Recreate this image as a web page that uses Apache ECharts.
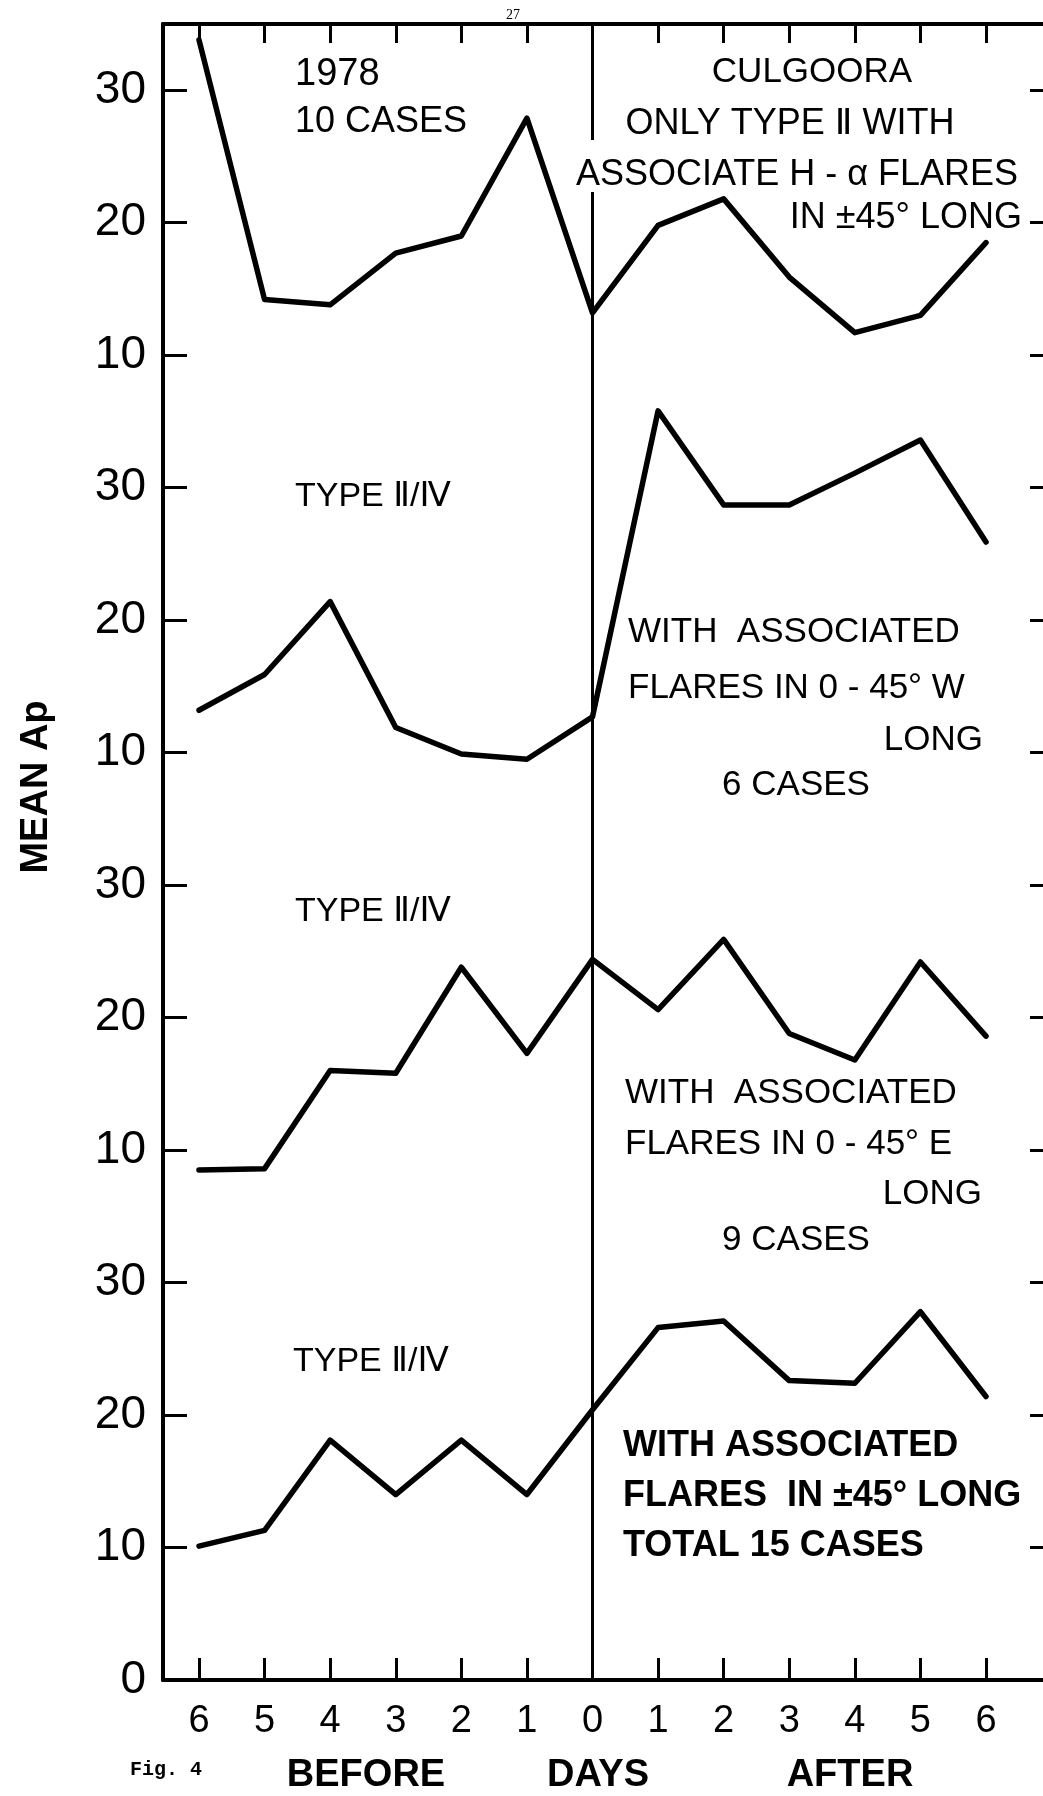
<!DOCTYPE html>
<html>
<head>
<meta charset="utf-8">
<script src="https://cdn.jsdelivr.net/npm/echarts@6/dist/echarts.min.js"></script>
<style>
html,body{margin:0;padding:0;background:#fff;}
#chart{width:1043px;height:1796px;}
</style>
</head>
<body>
<div id="chart"></div>
<script>
// Days before / after event (category labels)
const DAYS = ['6','5','4','3','2','1','0','1','2','3','4','5','6'];
// Mean Ap per panel
const CULGOORA_TYPE_II = [33.8,14.2,13.8,17.7,19.0,27.9,13.2,19.8,21.8,15.9,11.7,13.0,18.5];
const WEST_TYPE_II_IV  = [13.2,15.9,21.4,11.9,9.9,9.5,12.7,35.8,28.7,28.7,31.1,33.6,25.9];
const EAST_TYPE_II_IV  = [8.5,8.6,16.0,15.8,23.8,17.3,24.4,20.6,25.9,18.8,16.8,24.2,18.6];
const TOTAL_TYPE_II_IV = [10.1,11.3,18.1,14.0,18.1,14.0,20.4,26.6,27.1,22.6,22.4,27.8,21.4];
// Each panel's zero on the shared stacked axis
const PANEL_BASES = [90, 60, 30, 0];
// Tick labels of the stacked y axis (every 10 units)
const Y_TICK_LABELS = ['0','10','20','30','10','20','30','10','20','30','10','20','30'];

const FONT = '"Liberation Sans", "DejaVu Sans", Arial, sans-serif';
const chart = echarts.init(document.getElementById('chart'), null, {renderer:'canvas'});

const panels = [CULGOORA_TYPE_II, WEST_TYPE_II_IV, EAST_TYPE_II_IV, TOTAL_TYPE_II_IV];
const series = panels.map((arr, k) => ({
  type: 'line',
  xAxisIndex: 2,
  yAxisIndex: 2,
  data: arr.map((v, i) => [i, v + PANEL_BASES[k]]),
  symbol: 'none',
  clip: false,
  z: 3,
  lineStyle: {color:'#000', width:5.5, join:'round', cap:'round'}
}));
series[3].markLine = {
  symbol: 'none', silent: true, animation: false,
  label: {show:false},
  lineStyle: {color:'#000', width:3, type:'solid'},
  data: [{xAxis: 6}]
};

const frameLine = () => ({show:true, onZero:false, lineStyle:{color:'#000', width:4}});
const hiddenLine = () => ({show:false, onZero:false});
const noLabel = () => ({show:false});
const yTick = () => ({show:true, inside:true, length:24, lineStyle:{color:'#000', width:3}});

function txt(text, x, y, size, align, extra) {
  extra = extra || {};
  const style = Object.assign({
    text: text,
    fill: '#000',
    font: (extra.weight || 'normal') + ' ' + size + 'px ' + (extra.family || FONT),
    align: align || 'left',
    verticalAlign: 'middle'
  }, extra.style || {});
  const el = {type:'text', x:x, y:y, z:100, style:style};
  if (extra.rotation) el.rotation = extra.rotation;
  return el;
}

const graphic = [
  // gap in the day-0 line behind the "ASSOCIATE" line
  {type:'rect', z:50, shape:{x:584, y:140, width:16, height:52}, style:{fill:'#fff'}},
  txt('1978', 295, 75, 38, 'left'),
  txt('10 CASES', 295, 122, 36, 'left'),
  txt('CULGOORA', 812, 72, 35, 'center'),
  txt('ONLY TYPE Ⅱ WITH', 790, 124, 36, 'center'),
  txt('ASSOCIATE H - α FLARES', 797, 175, 36, 'center'),
  txt('IN ±45° LONG', 1022, 218, 36, 'right'),

  txt('TYPE Ⅱ/Ⅳ', 295, 497, 34, 'left'),
  txt('WITH  ASSOCIATED', 628, 632, 35, 'left'),
  txt('FLARES IN 0 - 45° W', 628, 688, 35, 'left'),
  txt('LONG', 983, 740, 35, 'right'),
  txt('6 CASES', 796, 785, 35, 'center'),

  txt('TYPE Ⅱ/Ⅳ', 295, 912, 34, 'left'),
  txt('WITH  ASSOCIATED', 625, 1093, 35, 'left'),
  txt('FLARES IN 0 - 45° E', 625, 1144, 35, 'left'),
  txt('LONG', 982, 1194, 35, 'right'),
  txt('9 CASES', 796, 1240, 35, 'center'),

  txt('TYPE Ⅱ/Ⅳ', 293, 1362, 34, 'left'),
  txt('WITH ASSOCIATED', 623, 1446, 36, 'left', {weight:'bold'}),
  txt('FLARES  IN ±45° LONG', 623, 1496, 36, 'left', {weight:'bold'}),
  txt('TOTAL 15 CASES', 623, 1546, 36, 'left', {weight:'bold'}),

  txt('BEFORE', 366, 1776, 38, 'center', {weight:'bold'}),
  txt('DAYS', 598, 1776, 38, 'center', {weight:'bold'}),
  txt('AFTER', 850, 1776, 38, 'center', {weight:'bold'}),
  txt('Fig. 4', 130, 1770, 20, 'left', {weight:'bold', family:'"Liberation Mono", "DejaVu Sans Mono", monospace'}),
  txt('27', 513, 15, 14, 'center', {family:'"Liberation Serif", serif'}),
  txt('MEAN Ap', 37, 787, 38, 'center', {weight:'bold', rotation: Math.PI/2})
];

const option = {
  animation: false,
  backgroundColor: '#fff',
  grid: [
    {left:163, top:24, width:891, height:1656, containLabel:false, outerBoundsMode:'none'},
    {left:199, top:24, width:787, height:1656, containLabel:false, outerBoundsMode:'none'}
  ],
  xAxis: [
    {gridIndex:0, type:'value', min:0, max:1, position:'bottom', axisLine:frameLine(), axisTick:{show:false}, axisLabel:noLabel(), splitLine:{show:false}},
    {gridIndex:0, type:'value', min:0, max:1, position:'top', axisLine:frameLine(), axisTick:{show:false}, axisLabel:noLabel(), splitLine:{show:false}},
    {gridIndex:1, type:'value', min:0, max:12, interval:1, position:'bottom',
      axisLine:hiddenLine(),
      axisTick:{show:true, inside:true, length:22, lineStyle:{color:'#000', width:3}},
      axisLabel:{show:true, formatter:(v) => DAYS[v] !== undefined ? DAYS[v] : '', fontSize:38, fontFamily:FONT, color:'#000', margin:23},
      splitLine:{show:false}},
    {gridIndex:1, type:'value', min:0, max:12, interval:1, position:'top',
      axisLine:hiddenLine(),
      axisTick:{show:true, inside:true, length:19, lineStyle:{color:'#000', width:3}},
      axisLabel:noLabel(), splitLine:{show:false}}
  ],
  yAxis: [
    {gridIndex:0, type:'value', min:0, max:125, interval:10, position:'left',
      axisLine:frameLine(),
      axisTick:yTick(),
      axisLabel:{show:true, showMaxLabel:false, formatter:(v) => (v % 10 === 0 && v/10 < Y_TICK_LABELS.length) ? Y_TICK_LABELS[v/10] : '', fontSize:46, fontFamily:FONT, color:'#000', margin:17},
      splitLine:{show:false}},
    {gridIndex:0, type:'value', min:0, max:125, interval:10, position:'right',
      axisLine:frameLine(), axisTick:yTick(),
      axisLabel:noLabel(), splitLine:{show:false}},
    {gridIndex:1, type:'value', min:0, max:125, show:false, axisLine:hiddenLine()}
  ],
  series: series,
  graphic: graphic
};
chart.setOption(option);
</script>
</body>
</html>
